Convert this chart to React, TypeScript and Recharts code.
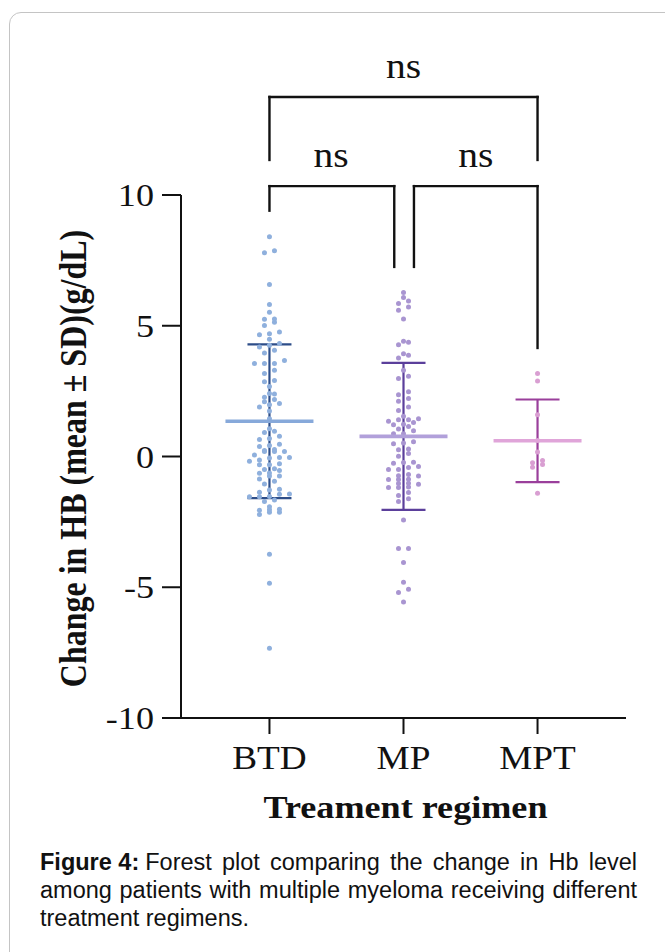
import React from 'react';
import { ScatterChart, Scatter, XAxis, YAxis, ErrorBar, ReferenceLine, ReferenceDot } from 'recharts';

// ---------- data ----------
const groups = ['BTD', 'MP', 'MPT'];

const btdValues = [
  8.4, 7.87, 7.79, 6.58, 5.81, 5.52, 5.25, 5.26, 5.13, 5.01, 4.69, 4.66, 4.76, 4.48, 4.25, 4.19,
  4.32, 3.96, 4.06, 3.67, 3.56, 3.56, 3.56, 3.3, 3.17, 2.91, 2.86, 2.68, 2.41, 2.39, 2.27, 2.18,
  2.09, 2.03, 1.98, 1.89, 1.74, 1.44, 1.06, 0.97, 0.92, 0.77, 0.65, 0.69, 0.47, 0.42, 0.38, 0.23,
  0.27, 0.19, 0.19, 0.19, 0.06, -0.04, -0.04, -0.06, -0.13, -0.18, -0.28, -0.32, -0.32, -0.47,
  -0.5, -0.54, -0.63, -0.64, -0.75, -0.75, -0.86, -0.95, -1.05, -1.25, -1.28, -1.43, -1.44, -1.37,
  -1.54, -1.54, -1.53, -1.66, -1.72, -1.92, -2.02, -2.04, -2.06, -2.13, -2.13, -2.22, -3.74, -4.85,
  -7.33,
];

const mpValues = [
  6.27, 6.08, 5.95, 5.85, 5.72, 5.59, 5.26, 4.37, 4.27, 4.41, 3.93, 3.87, 3.77, 3.3, 3.07, 2.98,
  2.36, 2.48, 2.22, 2.11, 1.89, 1.76, 1.54, 1.35, 1.41, 1.44, 1.41, 1.3, 1.21, 1.23, 1.15, 0.98,
  1.05, 0.87, 0.87, 0.52, 0.56, 0.49, 0.26, 0.29, 0.11, 0.01, -0.23, -0.22, -0.26, -0.42, -0.38,
  -0.5, -0.5, -0.69, -0.74, -0.75, -0.88, -0.87, -0.88, -1.02, -1.06, -1.03, -1.19, -1.17, -1.19,
  -1.38, -1.49, -1.62, -1.72, -2.43, -3.52, -3.52, -4.05, -4.81, -5.08, -5.2, -5.56,
];

const mptValues = [3.17, 2.89, 1.6, 0.61, 0.17, -0.15, -0.24, -0.31, -0.41, -1.41];

const groupMeans = [1.35, 0.77, 0.6];
const groupSDs = [2.94, 2.81, 1.58];

const yTicks = [-10, -5, 0, 5, 10];
const xTicks = [0, 1, 2];

const comparisonLabels = ['ns', 'ns', 'ns'];

const captionLabel = 'Figure 4:';
const captionLines = [
  ' Forest plot comparing the change in Hb level',
  'among patients with multiple myeloma receiving different',
  'treatment regimens.',
];

// ---------- annotation layout (brackets), in data units ----------
const bracketLayout = [
  { from: 0, to: 2, level: 13.75, leftEnd: 11.34, rightEnd: 11.34, labelX: 1, labelY: 14.46 },
  { from: 0, to: 0.931, level: 10.34, leftEnd: 9.4, rightEnd: 7.25, labelX: 0.46, labelY: 11.08 },
  { from: 1.078, to: 2, level: 10.34, leftEnd: 7.25, rightEnd: 4.15, labelX: 1.54, labelY: 11.08 },
];

// ---------- styles ----------
const dotColors = ['#8fb0dd', '#a995d1', '#d99fd2'];
const meanColors = ['#87a9da', '#b1a0da', '#e0a5d9'];
const barColors = ['#2d4d88', '#5b3f9b', '#9a3f9b'];
const SERIF = '"Liberation Serif", "Times New Roman", serif';
const SANS = '"Liberation Sans", Arial, sans-serif';
const SX = 1.13;

const W = 665;
const H = 952;
const PLOT_LEFT = 181;
const PLOT_RIGHT = 626;
const PLOT_TOP = 195;
const PLOT_BOTTOM = 718;
const X_DOMAIN: [number, number] = [-0.66, 2.66];
const PX_PER_X = (PLOT_RIGHT - PLOT_LEFT) / (X_DOMAIN[1] - X_DOMAIN[0]);
const COL_STEP = 10 / PX_PER_X;
const BIN_H = 0.14;

// GraphPad-like row layout of a column scatter
function swarm(values: number[], gi: number) {
  const sorted = [...values].sort((a, b) => a - b);
  const rows: number[][] = [];
  let cur: number[] = [];
  let start = -Infinity;
  for (const v of sorted) {
    if (cur.length && v - start < BIN_H) cur.push(v);
    else {
      if (cur.length) rows.push(cur);
      cur = [v];
      start = v;
    }
  }
  if (cur.length) rows.push(cur);
  const pts: { x: number; y: number }[] = [];
  rows.forEach((r) =>
    r.forEach((v, i) => pts.push({ x: gi + (i - (r.length - 1) / 2) * COL_STEP, y: v }))
  );
  return pts;
}

const allValues = [btdValues, mpValues, mptValues];
const dotData = allValues.map((vals, gi) => swarm(vals, gi));
const meanData = groupMeans.map((m, gi) => [{ x: gi, y: m, sd: groupSDs[gi] }]);

const XTick = (p: any) => (
  <text
    transform={`translate(${p.x},${p.y + 33}) scale(${SX},1)`}
    textAnchor="middle"
    fontFamily={SERIF}
    fontSize={33}
    fill="#111"
  >
    {groups[p.payload.value]}
  </text>
);

const YTick = (p: any) => (
  <text
    transform={`translate(${p.x},${p.y + 11}) scale(${SX},1)`}
    textAnchor="end"
    fontFamily={SERIF}
    fontSize={32}
    fill="#111"
  >
    {p.payload.value}
  </text>
);

const Dot = (color: string) => (p: any) => <circle cx={p.cx} cy={p.cy} r={2.5} fill={color} />;
const MeanLine = (color: string) => (p: any) => (
  <line x1={p.cx - 44} x2={p.cx + 44} y1={p.cy} y2={p.cy} stroke={color} strokeWidth={3.6} />
);
const Empty = () => <g />;

const lineStyle: React.CSSProperties = {
  height: 28,
  lineHeight: '28px',
  whiteSpace: 'nowrap',
};

export default function App() {
  return (
    <div style={{ position: 'absolute', left: 0, top: 0, width: W, height: H, overflow: 'hidden', background: '#fff' }}>
      <div
        style={{
          position: 'absolute',
          left: 9,
          top: 12,
          width: 700,
          height: 1000,
          border: '1px solid #c4c4c4',
          borderRadius: 12,
          boxSizing: 'border-box',
        }}
      />
      <div style={{ position: 'absolute', left: 0, top: 0 }}>
        <ScatterChart
          width={W}
          height={H}
          margin={{ top: PLOT_TOP, right: W - PLOT_RIGHT, bottom: 0, left: 0 }}
        >
          <XAxis
            type="number"
            dataKey="x"
            domain={X_DOMAIN}
            ticks={xTicks}
            allowDataOverflow
            height={H - PLOT_BOTTOM}
            tickSize={16}
            tickMargin={2}
            tick={<XTick />}
            axisLine={{ stroke: '#111', strokeWidth: 2 }}
            tickLine={{ stroke: '#111', strokeWidth: 2 }}
            label={(props: any) => {
              const vb = props.viewBox;
              return (
                <text
                  transform={`translate(${vb.x + vb.width / 2 + 2},${vb.y + 100}) scale(${SX},1)`}
                  textAnchor="middle"
                  fontFamily={SERIF}
                  fontWeight="bold"
                  fontSize={32}
                  fill="#111"
                >
                  Treament regimen
                </text>
              );
            }}
          />
          <YAxis
            type="number"
            dataKey="y"
            domain={[-10, 10]}
            ticks={yTicks}
            allowDataOverflow
            width={PLOT_LEFT}
            tickSize={19}
            tickMargin={8}
            tick={<YTick />}
            axisLine={{ stroke: '#111', strokeWidth: 2 }}
            tickLine={{ stroke: '#111', strokeWidth: 2 }}
            label={(props: any) => {
              const vb = props.viewBox;
              return (
                <text
                  transform={`translate(86,${vb.y + vb.height / 2 + 2}) rotate(-90) scale(1,1.2)`}
                  textAnchor="middle"
                  fontFamily={SERIF}
                  fontWeight="bold"
                  fontSize={32}
                  fill="#111"
                >
                  Change in HB (mean ± SD)(g/dL)
                </text>
              );
            }}
          />

          {meanData.map((d, gi) => (
            <Scatter key={`sd-${gi}`} data={d} shape={<Empty />} isAnimationActive={false}>
              <ErrorBar dataKey="sd" direction="y" width={22} stroke={barColors[gi]} strokeWidth={2.2} />
            </Scatter>
          ))}
          {dotData.map((d, gi) => (
            <Scatter key={`dots-${gi}`} data={d} shape={Dot(dotColors[gi])} isAnimationActive={false} />
          ))}
          {meanData.map((d, gi) => (
            <Scatter key={`mean-${gi}`} data={d} shape={MeanLine(meanColors[gi])} isAnimationActive={false} />
          ))}

          {bracketLayout.map((b, i) => [
            <ReferenceLine
              key={`bh-${i}`}
              segment={[{ x: b.from, y: b.level }, { x: b.to, y: b.level }]}
              ifOverflow="visible"
              stroke="#111"
              strokeWidth={2.4}
              strokeLinecap="square"
            />,
            <ReferenceLine
              key={`bl-${i}`}
              segment={[{ x: b.from, y: b.level }, { x: b.from, y: b.leftEnd }]}
              ifOverflow="visible"
              stroke="#111"
              strokeWidth={2.4}
              strokeLinecap="square"
            />,
            <ReferenceLine
              key={`br-${i}`}
              segment={[{ x: b.to, y: b.level }, { x: b.to, y: b.rightEnd }]}
              ifOverflow="visible"
              stroke="#111"
              strokeWidth={2.4}
              strokeLinecap="square"
            />,
            <ReferenceDot
              key={`bt-${i}`}
              x={b.labelX}
              y={b.labelY}
              r={0}
              ifOverflow="visible"
              shape={(p: any) => (
                <text
                  transform={`translate(${p.cx},${p.cy}) scale(${SX},1)`}
                  textAnchor="middle"
                  fontFamily={SERIF}
                  fontSize={35}
                  fill="#111"
                >
                  {comparisonLabels[i]}
                </text>
              )}
            />,
          ])}
        </ScatterChart>
      </div>
      <div
        style={{
          position: 'absolute',
          left: 40,
          top: 848,
          width: 597,
          fontFamily: SANS,
          fontSize: 23.5,
          color: '#111',
        }}
      >
        <div style={{ ...lineStyle, display: 'flex', justifyContent: 'space-between' }}>
          <span style={{ fontWeight: 'bold' }}>{captionLabel}</span>
          <span style={{ flex: 1, marginLeft: 6, textAlign: 'justify', textAlignLast: 'justify' }}>
            {captionLines[0].trim()}
          </span>
        </div>
        <div style={{ ...lineStyle, textAlign: 'justify', textAlignLast: 'justify' }}>{captionLines[1]}</div>
        <div style={lineStyle}>{captionLines[2]}</div>
      </div>
    </div>
  );
}
